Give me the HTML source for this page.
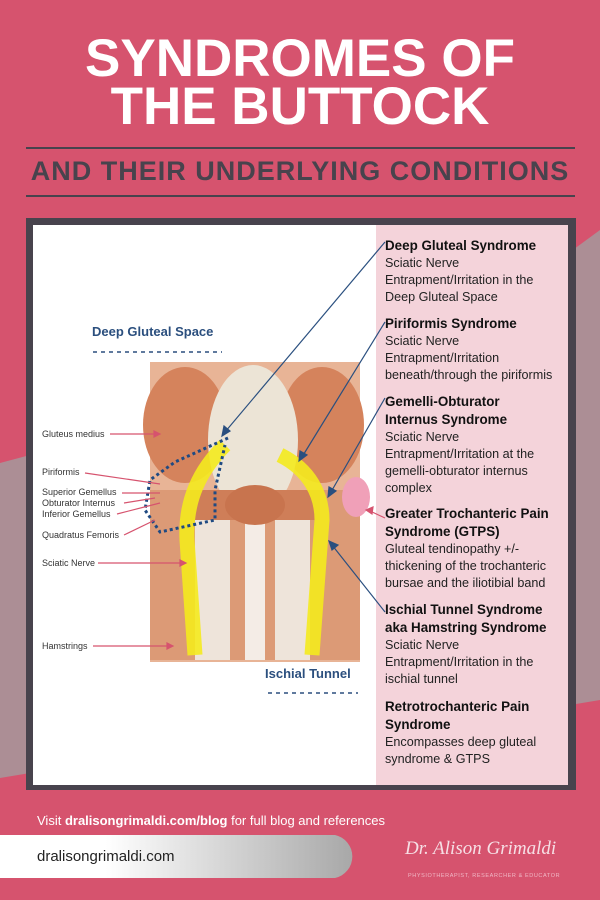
<!DOCTYPE html>
<html><head><meta charset="utf-8"><style>
body{margin:0;width:600px;height:900px;overflow:hidden;background:#d6536e;font-family:"Liberation Sans",sans-serif;position:relative}
.a{position:absolute;white-space:nowrap}
.t{color:#fff;font-weight:bold;font-size:53px;left:0;width:600px;text-align:center;letter-spacing:0px}
.r{position:absolute;left:385px;color:#222;font-size:12.6px;line-height:17px}
.r b{font-size:13.4px;line-height:18px;color:#111;display:block}
.l{position:absolute;left:42px;font-size:9px;color:#333}
</style></head><body>
<svg class="a" style="left:0;top:0" width="600" height="900">
<polygon points="0,463 30,455 30,773 0,778" fill="#ac8e95"/>
<polygon points="570,252 600,230 600,700 570,705" fill="#ac8e95"/>
<line x1="26" y1="148" x2="575" y2="148" stroke="#48434d" stroke-width="2"/>
<line x1="26" y1="196" x2="575" y2="196" stroke="#48434d" stroke-width="2"/>
<rect x="26" y="218" width="550" height="572" fill="#48434d"/>
<rect x="33" y="225" width="535" height="560" fill="#fff"/>
<rect x="376" y="225" width="192" height="560" fill="#f4d3da"/>
<rect x="150" y="362" width="210" height="300" fill="#e8b496"/>
<rect x="150" y="490" width="95" height="170" fill="#dc9a76"/>
<rect x="265" y="490" width="95" height="170" fill="#dc9a76"/>
<rect x="195" y="520" width="35" height="140" fill="#eee4da"/>
<rect x="275" y="520" width="35" height="140" fill="#eee4da"/>
<rect x="245" y="520" width="20" height="140" fill="#f4ece6"/>
<ellipse cx="185" cy="425" rx="42" ry="58" fill="#d5835c"/>
<ellipse cx="322" cy="425" rx="42" ry="58" fill="#d5835c"/>
<ellipse cx="253" cy="440" rx="45" ry="75" fill="#ece4d6"/>
<rect x="190" y="490" width="130" height="30" fill="#cf7e58"/>
<ellipse cx="255" cy="505" rx="30" ry="20" fill="#c8744e"/>
<path d="M225,445 C200,470 185,500 187,540 L195,655" stroke="#f4ea1e" stroke-width="15" fill="none" opacity=".9"/>
<path d="M280,455 C310,470 322,495 322,520 L312,655" stroke="#f4ea1e" stroke-width="15" fill="none" opacity=".9"/>
<ellipse cx="356" cy="497" rx="14" ry="20" fill="#f0a0b8"/>
<path d="M228,438 L175,462 L150,480 L145,510 L160,532 L215,520 L215,490 L225,445" stroke="#1f4a82" stroke-width="3" stroke-dasharray="3,3" fill="none"/>
<g stroke="#2a4f7f" stroke-width="1.2" fill="#2a4f7f">
<line x1="385" y1="242" x2="225" y2="432"/><polygon points="222,436 224,426 230,431"/>
<line x1="385" y1="322" x2="302" y2="457"/><polygon points="299,461 300,451 307,455"/>
<line x1="385" y1="398" x2="331" y2="492"/><polygon points="328,497 329,487 336,491"/>
<line x1="385" y1="612" x2="332" y2="545"/><polygon points="329,541 338,545 332,550"/>
</g>
<g stroke="#d6536e" stroke-width="1.2" fill="#d6536e">
<line x1="385" y1="518" x2="370" y2="511"/><polygon points="366,510 373,507 372,514"/>
<line x1="110" y1="434" x2="157" y2="434"/><polygon points="160,434 154,431 154,437"/>
<line x1="85" y1="473" x2="160" y2="484"/>
<line x1="122" y1="493" x2="160" y2="493"/>
<line x1="124" y1="503" x2="155" y2="498"/>
<line x1="117" y1="514" x2="160" y2="503"/>
<line x1="124" y1="535" x2="155" y2="520"/>
<line x1="98" y1="563" x2="183" y2="563"/><polygon points="186,563 180,560 180,566"/>
<line x1="93" y1="646" x2="170" y2="646"/><polygon points="173,646 167,643 167,649"/>
</g>
<line x1="93" y1="352" x2="222" y2="352" stroke="#2b4f7e" stroke-width="1.5" stroke-dasharray="4,4"/>
<line x1="268" y1="693" x2="358" y2="693" stroke="#2b4f7e" stroke-width="1.5" stroke-dasharray="4,4"/>
<defs><linearGradient id="g"><stop offset=".3" stop-color="#fff"/><stop offset="1" stop-color="#a8a8a8"/></linearGradient></defs>
<path d="M0,835 H335 A22,22 0 0 1 335,878 H0Z" fill="url(#g)"/>
</svg>
<div class="a t" style="top:28px">SYNDROMES OF</div>
<div class="a t" style="top:76px">THE BUTTOCK</div>
<div class="a" style="top:156px;left:0;width:600px;text-align:center;font-size:27px;font-weight:bold;color:#48434d;letter-spacing:1px">AND THEIR UNDERLYING CONDITIONS</div>
<div class="a" style="left:92px;top:324px;font-size:13px;font-weight:bold;color:#2b4f7e">Deep Gluteal Space</div>
<div class="a" style="left:265px;top:666px;font-size:13px;font-weight:bold;color:#2b4f7e">Ischial Tunnel</div>
<div class="l" style="top:429px">Gluteus medius</div>
<div class="l" style="top:467px">Piriformis</div>
<div class="l" style="top:487px">Superior Gemellus</div>
<div class="l" style="top:498px">Obturator Internus</div>
<div class="l" style="top:509px">Inferior Gemellus</div>
<div class="l" style="top:530px">Quadratus Femoris</div>
<div class="l" style="top:558px">Sciatic Nerve</div>
<div class="l" style="top:641px">Hamstrings</div>
<div class="r" style="top:237px"><b>Deep Gluteal Syndrome</b>Sciatic Nerve<br>Entrapment/Irritation in the<br>Deep Gluteal Space</div>
<div class="r" style="top:315px"><b>Piriformis Syndrome</b>Sciatic Nerve<br>Entrapment/Irritation<br>beneath/through the piriformis</div>
<div class="r" style="top:393px"><b>Gemelli-Obturator<br>Internus Syndrome</b>Sciatic Nerve<br>Entrapment/Irritation at the<br>gemelli-obturator internus<br>complex</div>
<div class="r" style="top:505px"><b>Greater Trochanteric Pain<br>Syndrome (GTPS)</b>Gluteal tendinopathy +/-<br>thickening of the trochanteric<br>bursae and the iliotibial band</div>
<div class="r" style="top:601px"><b>Ischial Tunnel Syndrome<br>aka Hamstring Syndrome</b>Sciatic Nerve<br>Entrapment/Irritation in the<br>ischial tunnel</div>
<div class="r" style="top:698px"><b>Retrotrochanteric Pain<br>Syndrome</b>Encompasses deep gluteal<br>syndrome &amp; GTPS</div>
<div class="a" style="left:37px;top:813px;font-size:13px;color:#fff">Visit <b>dralisongrimaldi.com/blog</b> for full blog and references</div>
<div class="a" style="left:37px;top:848px;font-size:15px;color:#222">dralisongrimaldi.com</div>
<div class="a" style="left:405px;top:838px;font-family:'Liberation Serif',serif;font-style:italic;font-size:19px;color:#f6dfe5">Dr. Alison Grimaldi</div>
<div class="a" style="left:408px;top:873px;font-size:5.5px;color:#f0b8c6;letter-spacing:.6px">PHYSIOTHERAPIST, RESEARCHER &amp; EDUCATOR</div>
</body></html>
